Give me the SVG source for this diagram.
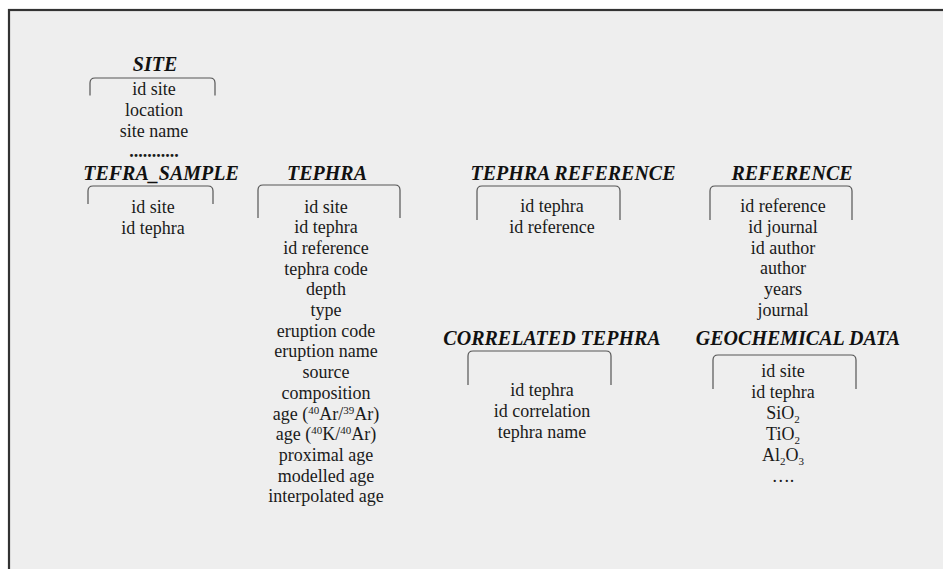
<svg xmlns="http://www.w3.org/2000/svg" width="943" height="569" viewBox="0 0 943 569">
<style>
.hd{font-family:"Liberation Serif","Times New Roman",serif;font-size:20px;font-weight:bold;font-style:italic;fill:#111;text-anchor:middle}
.it{font-family:"Liberation Serif","Times New Roman",serif;font-size:18px;fill:#1a1a1a;text-anchor:middle}
.br{fill:none;stroke:#555;stroke-width:1.2}
.sup{font-size:11px}
</style>
<rect x="0" y="0" width="943" height="569" fill="#ffffff"/>
<rect x="9" y="10" width="940" height="570" fill="#eeeeee" stroke="#333" stroke-width="2.2"/>

<g id="site">
<text class="hd" x="155" y="70.5">SITE</text>
<path class="br" d="M90 95.5 V83 Q90 78 95 78 H210 Q215 78 215 83 V95.5"/>
<text class="it" x="154" y="95">id site</text>
<text class="it" x="154" y="116">location</text>
<text class="it" x="154" y="137">site name</text>
<text class="it" x="154" y="157" font-weight="bold">...........</text>
</g>

<g id="tefra_sample">
<text class="hd" x="161" y="180">TEFRA_SAMPLE</text>
<path class="br" d="M88 204 V191 Q88 186 93 186 H208 Q213 186 213 191 V204"/>
<text class="it" x="153" y="213">id site</text>
<text class="it" x="153" y="234">id tephra</text>
</g>

<g id="tephra">
<text class="hd" x="327" y="180">TEPHRA</text>
<path class="br" d="M258 218 V190 Q258 185 263 185 H395 Q400 185 400 190 V218"/>
<text class="it" x="326" y="212.5">id site</text>
<text class="it" x="326" y="233.2">id tephra</text>
<text class="it" x="326" y="253.9">id reference</text>
<text class="it" x="326" y="274.6">tephra code</text>
<text class="it" x="326" y="295.3">depth</text>
<text class="it" x="326" y="316">type</text>
<text class="it" x="326" y="336.7">eruption code</text>
<text class="it" x="326" y="357.4">eruption name</text>
<text class="it" x="326" y="378.1">source</text>
<text class="it" x="326" y="398.8">composition</text>
<text class="it" x="326" y="419.5">age (<tspan class="sup" dy="-6">40</tspan><tspan dy="6">Ar/</tspan><tspan class="sup" dy="-6">39</tspan><tspan dy="6">Ar)</tspan></text>
<text class="it" x="326" y="440.2">age (<tspan class="sup" dy="-6">40</tspan><tspan dy="6">K/</tspan><tspan class="sup" dy="-6">40</tspan><tspan dy="6">Ar)</tspan></text>
<text class="it" x="326" y="460.9">proximal age</text>
<text class="it" x="326" y="481.6">modelled age</text>
<text class="it" x="326" y="502.3">interpolated age</text>
</g>

<g id="tephra_reference">
<text class="hd" x="573" y="180">TEPHRA REFERENCE</text>
<path class="br" d="M477 220 V191 Q477 186 482 186 H615 Q620 186 620 191 V220"/>
<text class="it" x="552" y="212">id tephra</text>
<text class="it" x="552" y="233">id reference</text>
</g>

<g id="reference">
<text class="hd" x="792" y="180">REFERENCE</text>
<path class="br" d="M710 220 V191 Q710 186 715 186 H847 Q852 186 852 191 V220"/>
<text class="it" x="783" y="212">id reference</text>
<text class="it" x="783" y="232.8">id journal</text>
<text class="it" x="783" y="253.6">id author</text>
<text class="it" x="783" y="274.4">author</text>
<text class="it" x="783" y="295.2">years</text>
<text class="it" x="783" y="316">journal</text>
</g>

<g id="correlated_tephra">
<text class="hd" x="552" y="344.5">CORRELATED TEPHRA</text>
<path class="br" d="M468 385 V356 Q468 351 473 351 H606 Q611 351 611 356 V385"/>
<text class="it" x="542" y="396">id tephra</text>
<text class="it" x="542" y="417">id correlation</text>
<text class="it" x="542" y="438">tephra name</text>
</g>

<g id="geochemical_data">
<text class="hd" x="798" y="344.5">GEOCHEMICAL DATA</text>
<path class="br" d="M713 389 V360 Q713 355 718 355 H851 Q856 355 856 360 V389"/>
<text class="it" x="783" y="377">id site</text>
<text class="it" x="783" y="398">id tephra</text>
<text class="it" x="783" y="419">SiO<tspan class="sup" dy="4">2</tspan></text>
<text class="it" x="783" y="440">TiO<tspan class="sup" dy="4">2</tspan></text>
<text class="it" x="783" y="461">Al<tspan class="sup" dy="4">2</tspan><tspan dy="-4">O</tspan><tspan class="sup" dy="4">3</tspan></text>
<text class="it" x="783" y="482">….</text>
</g>

<g id="connectors"></g>
</svg>
